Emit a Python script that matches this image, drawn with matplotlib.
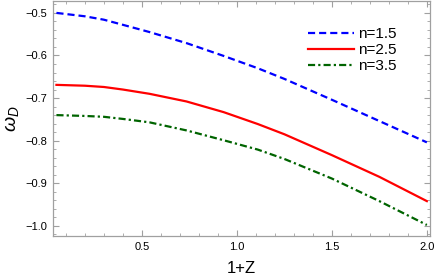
import matplotlib
matplotlib.use("Agg")
import matplotlib.pyplot as plt
from matplotlib.ticker import MultipleLocator

plt.rcParams['font.family'] = ['Liberation Sans', 'DejaVu Sans']
plt.rcParams['mathtext.fontset'] = 'custom'
plt.rcParams['mathtext.it'] = 'Liberation Sans:italic'
plt.rcParams['mathtext.rm'] = 'Liberation Sans'

# --- data ---
z = [0.05, 0.2, 0.3, 0.4, 0.54, 0.735, 0.93, 1.11, 1.25, 1.5, 1.75, 2.0]
w_n15 = [-0.500, -0.508, -0.516, -0.528, -0.545, -0.571, -0.601, -0.630, -0.655, -0.704, -0.754, -0.804]
w_n25 = [-0.669, -0.671, -0.674, -0.680, -0.690, -0.708, -0.733, -0.761, -0.785, -0.834, -0.885, -0.942]
w_n35 = [-0.740, -0.742, -0.744, -0.749, -0.757, -0.776, -0.799, -0.821, -0.843, -0.889, -0.942, -0.998]
labels = ['n=1.5', 'n=2.5', 'n=3.5']

fig = plt.figure(figsize=(4.36, 2.80), dpi=100)
ax = fig.add_axes([0.1216, 0.157, 0.8644, 0.838])

ax.plot(z, w_n15, color='blue', lw=1.6, dashes=(3.2, 1.8), label=labels[0])
ax.plot(z, w_n25, color='red', lw=1.6, label=labels[1])
ax.plot(z, w_n35, color='#006400', lw=1.6, dashes=(3.2, 1.4, 1.0, 1.4), label=labels[2])

ax.set_xlim(0.032, 2.016)
ax.set_ylim(-1.024, -0.473)
ax.xaxis.set_major_locator(MultipleLocator(0.5))
ax.xaxis.set_minor_locator(MultipleLocator(0.1))
ax.yaxis.set_major_locator(MultipleLocator(0.1))
ax.yaxis.set_minor_locator(MultipleLocator(0.02))
ax.xaxis.set_major_formatter(plt.FuncFormatter(lambda v, p: f'{v:.1f}'))
ax.yaxis.set_major_formatter(plt.FuncFormatter(lambda v, p: f'\u2212{abs(v):.1f}'))

for s in ax.spines.values():
    s.set_color('#a0a0a0')
    s.set_linewidth(0.9)
ax.tick_params(which='both', direction='in', top=True, right=True,
               color='#a0a0a0', labelsize=8, labelcolor='black')
ax.tick_params(which='major', length=4, width=0.8, pad=4)
ax.tick_params(which='minor', length=2, width=0.6)

ax.set_xlabel('1+Z', fontsize=12, labelpad=7)
ax.set_ylabel(r'$\omega_D$', fontsize=14, labelpad=3)

ax.legend(loc='upper right', bbox_to_anchor=(0.94, 0.935), frameon=False,
          fontsize=11, handlelength=3.0, handletextpad=0.3, labelspacing=0.12,
          borderpad=0.2)

fig.savefig('out.png', dpi=100)
